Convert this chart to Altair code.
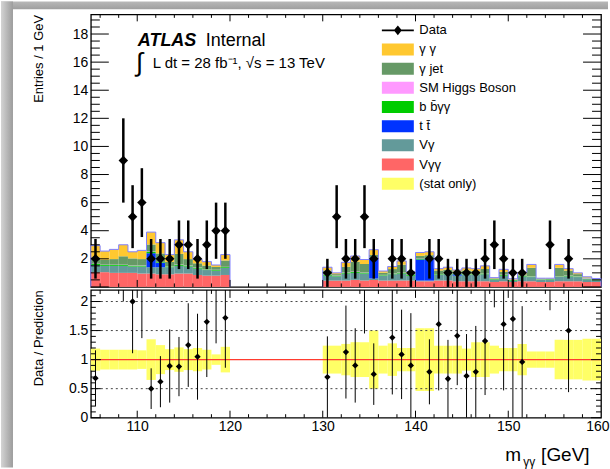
import altair as alt
import pandas as pd

FONT = "Liberation Sans"

# ---------------- data ----------------
bin_low = [105, 106, 107, 108, 109, 110, 111, 112, 113, 114, 115, 116, 117, 118, 119,
           130, 131, 132, 133, 134, 135, 136, 137, 138, 139, 140, 141, 142, 143, 144,
           145, 146, 147, 148, 149, 150, 151, 152, 153, 154, 155, 156, 157, 158, 159]

vyy = [1.05, 1.05, 1.00, 1.00, 1.00, 0.95, 0.95, 0.90, 0.90, 0.95, 0.95, 0.85, 0.80, 0.80, 0.85,
       0.45, 0.45, 0.45, 0.50, 0.45, 0.50, 0.45, 0.45, 0.45, 0.45, 0.40, 0.40, 0.45, 0.45, 0.40,
       0.40, 0.40, 0.40, 0.35, 0.40, 0.35, 0.40, 0.40, 0.35, 0.35, 0.40, 0.40, 0.40, 0.35, 0.35]
vy = [0.50, 0.45, 0.50, 0.50, 0.45, 0.50, 0.45, 0.50, 0.50, 0.55, 0.50, 0.45, 0.40, 0.35, 0.50,
      0.35, 0.30, 0.50, 0.50, 0.50, 0.10, 0.35, 0.45, 0.50, 0.35, 0.05, 0.05, 0.40, 0.45, 0.40,
      0.45, 0.45, 0.50, 0.15, 0.40, 0.10, 0.35, 0.30, 0.15, 0.15, 0.30, 0.35, 0.30, 0.20, 0.12]
ttbar = [0, 0, 0, 0, 0, 0, 1.00, 0.30, 0, 0, 0, 0, 0, 0, 0,
         0, 0, 0, 0, 0, 1.40, 0, 0, 0, 0, 1.50, 1.55, 0, 0, 0.10,
         0, 0, 0, 0, 0, 0, 0, 0, 0, 0, 0, 0, 0, 0, 0]
bbyy = [0.08, 0.06, 0.06, 0.06, 0.06, 0.06, 0.10, 0.06, 0.06, 0.08, 0.06, 0.06, 0.05, 0.05, 0.06,
        0.05, 0.04, 0.06, 0.06, 0.06, 0.05, 0.04, 0.05, 0.05, 0.04, 0.04, 0.04, 0.05, 0.05, 0.04,
        0.05, 0.05, 0.05, 0.05, 0.05, 0.04, 0.04, 0.04, 0.04, 0.04, 0.04, 0.04, 0.04, 0.04, 0.04]
higgs = [0.02, 0.02, 0.02, 0.02, 0.02, 0.02, 0.02, 0.02, 0.02, 0.02, 0.02, 0.02, 0.02, 0.02, 0.02,
         0.02, 0.02, 0.02, 0.03, 0.02, 0.02, 0.02, 0.02, 0.02, 0.02, 0.02, 0.02, 0.02, 0.02, 0.02,
         0.02, 0.02, 0.02, 0.02, 0.02, 0.02, 0.02, 0.02, 0.02, 0.02, 0.02, 0.02, 0.02, 0.02, 0.02]
yjet = [0.45, 0.35, 0.40, 0.60, 0.50, 0.45, 0.50, 0.60, 0.30, 0.75, 0.45, 0.30, 0.25, 0.20, 0.45,
        0.30, 0.10, 0.40, 0.70, 0.60, 0.20, 0.15, 0.30, 0.55, 0.15, 0.20, 0.20, 0.25, 0.25, 0.15,
        0.25, 0.20, 0.30, 0.04, 0.20, 0.02, 0.10, 0.60, 0.03, 0.03, 0.60, 0.35, 0.15, 0.06, 0.03]
yy = [0.84, 0.62, 0.69, 0.82, 0.47, 0.62, 0.88, 0.77, 0.52, 1.00, 0.52, 0.27, 0.28, 0.14, 0.42,
      0.23, 0.09, 0.32, 0.41, 0.32, 0.38, 0.12, 0.18, 0.28, 0.09, 0.24, 0.24, 0.13, 0.18, 0.09,
      0.18, 0.18, 0.23, 0.05, 0.18, 0.05, 0.09, 0.24, 0.03, 0.03, 0.24, 0.14, 0.09, 0.05, 0.04]

band_err = [0.19, 0.17, 0.17, 0.17, 0.17, 0.16, 0.35, 0.25, 0.18, 0.21, 0.18, 0.20, 0.17, 0.09, 0.22,
            0.24, 0.24, 0.27, 0.30, 0.30, 0.50, 0.24, 0.28, 0.20, 0.20, 0.54, 0.54, 0.24, 0.24, 0.24,
            0.19, 0.30, 0.30, 0.24, 0.20, 0.20, 0.27, 0.14, 0.14, 0.14, 0.34, 0.34, 0.34, 0.36, 0.36]

data_mass = [105.5, 108.5, 109.5, 110.5, 111.5, 112.5, 113.5, 114.5, 115.5, 116.5, 117.5, 118.5, 119.5,
             130.5, 131.5, 132.5, 133.5, 134.5, 135.5, 137.5, 138.5, 139.5, 141.5, 142.5, 143.5,
             144.5, 145.5, 146.5, 147.5, 148.5, 149.5, 150.5, 151.5, 154.5, 156.5]
data_n = [2, 9, 5, 6, 2, 2, 2, 3, 3, 2, 3, 4, 4,
          1, 5, 2, 2, 5, 2, 2, 2, 1, 2, 2, 1, 1, 1, 1, 2, 3, 2, 1, 1, 3, 2]
data_err = [1.41, 3.0, 2.24, 2.45, 1.41, 1.41, 1.41, 1.73, 1.73, 1.41, 1.73, 2.0, 2.0,
            1.0, 2.24, 1.41, 1.41, 2.24, 1.41, 1.41, 1.41, 1.0, 1.41, 1.41, 1.0, 1.0, 1.0, 1.0,
            1.41, 1.73, 1.41, 1.0, 1.0, 1.73, 1.41]
ratio_val = [0.68, 3.0, 2.0, 2.31, 0.50, 0.62, 0.89, 0.88, 1.25, 1.05, 1.65, 2.56, 1.72,
             0.70, 5.0, 1.13, 0.90, 2.63, 0.75, 1.38, 1.09, 0.90, 0.79, 1.61, 0.67, 1.41, 0.72,
             0.79, 1.32, 4.5, 1.61, 1.70, 0.96, 4.35, 1.50]
ratio_err = [0.48, 1.0, 0.89, 0.94, 0.35, 0.44, 0.63, 0.51, 0.72, 0.74, 0.95, 1.28, 0.86,
             0.70, 2.24, 0.80, 0.64, 1.18, 0.53, 0.98, 0.77, 0.90, 0.56, 1.14, 0.67, 0.85, 0.72,
             0.79, 0.93, 2.6, 1.14, 1.70, 0.96, 2.5, 1.06]

comp_names = ["γ γ", "γ jet", "SM Higgs Boson", "b b\u0304γγ", "t t\u0304", "Vγ", "Vγγ"]
comp_colors = ["#FFC830", "#669966", "#FF99FF", "#00CC00", "#0033FF", "#639A9A", "#FF6666"]
legend_labels = ["Data"] + comp_names + [" (stat only)"]
legend_colors = ["#000000"] + comp_colors + ["#FFFF66"]

y_top_labels = [2, 4, 6, 8, 10, 12, 14, 16, 18]
y_rat_labels = [0, 0.5, 1, 1.5, 2]
x_labels = [110, 120, 130, 140, 150, 160]
dotted_levels = [0.5, 1.5, 2.0]

# ---------------- layout constants ----------------
W = 511
H_TOP = 273
H_RAT = 128
X_DOM = [105, 160]
Y_TOP_DOM = [0, 19.4]
Y_RAT_DOM = [0, 2.2]

# ---------------- tables ----------------
stack_order = [("Vγγ", vyy), ("Vγ", vy), ("t t\u0304", ttbar), ("b b\u0304γγ", bbyy),
               ("SM Higgs Boson", higgs), ("γ jet", yjet), ("γ γ", yy)]
rows = []
totals = []
for i, lo in enumerate(bin_low):
    base = 0.0
    for name, arr in stack_order:
        rows.append(dict(lo=lo, hi=lo + 1, y0=base, y1=base + arr[i], comp=name))
        base += arr[i]
    totals.append(base)
stack_df = pd.DataFrame(rows)

out_rows = []
k = 0
for region in ("L", "R"):
    idx = [i for i, lo in enumerate(bin_low) if (lo < 125) == (region == "L")]
    out_rows.append(dict(x=bin_low[idx[0]], y=0.0, reg=region, k=k)); k += 1
    for i in idx:
        out_rows.append(dict(x=bin_low[i], y=totals[i], reg=region, k=k)); k += 1
    last = idx[-1]
    out_rows.append(dict(x=bin_low[last] + 1, y=totals[last], reg=region, k=k)); k += 1
    out_rows.append(dict(x=bin_low[last] + 1, y=0.0, reg=region, k=k)); k += 1
outline_df = pd.DataFrame(out_rows)

band_df = pd.DataFrame(dict(lo=bin_low, err=band_err))
band_df["hi"] = band_df["lo"] + 1
band_df["b0"] = 1 - band_df["err"]
band_df["b1"] = 1 + band_df["err"]

data_df = pd.DataFrame(dict(mass=data_mass, n=data_n, err=data_err))
data_df["lo"] = data_df["n"] - data_df["err"]
data_df["hi"] = data_df["n"] + data_df["err"]

ratio_df = pd.DataFrame(dict(mass=data_mass, r=ratio_val, e=ratio_err))
ratio_df["lo"] = ratio_df["r"] - ratio_df["e"]
ratio_df["hi"] = ratio_df["r"] + ratio_df["e"]

legend_df = pd.DataFrame(dict(label=legend_labels, mass=[0.0] * len(legend_labels),
                              n=[-100.0] * len(legend_labels)))

# ---------------- helpers ----------------
xs = alt.Scale(domain=X_DOM, nice=False, zero=False)
ys_top = alt.Scale(domain=Y_TOP_DOM, nice=False, zero=False)
ys_rat = alt.Scale(domain=Y_RAT_DOM, nice=False, zero=False)

axis_y_top = alt.Axis(values=y_top_labels, tickSize=0, domain=False, grid=False,
                      labelFont=FONT, labelFontSize=14, labelColor="black", labelPadding=3,
                      title="Entries / 1 GeV", titleFont=FONT, titleFontSize=13,
                      titleFontWeight="normal", titleColor="black", titleAnchor="end",
                      titleX=-45, titleBaseline="bottom")
axis_y_rat = alt.Axis(values=y_rat_labels, format="~g", tickSize=0, domain=False, grid=False,
                      labelFont=FONT, labelFontSize=14, labelColor="black", labelPadding=3,
                      title="Data / Prediction", titleFont=FONT, titleFontSize=13,
                      titleFontWeight="normal", titleColor="black", titleAnchor="end",
                      titleX=-45, titleBaseline="bottom")
axis_x_rat = alt.Axis(values=x_labels, tickSize=0, domain=False, grid=False,
                      labelFont=FONT, labelFontSize=14, labelColor="black", labelPadding=2,
                      labelFlush=True, labelFlushOffset=8, title=None)


def XT(f):
    return alt.X(f, scale=xs, axis=None)


def YT(f):
    return alt.Y(f, scale=ys_top, axis=axis_y_top)


def XR(f):
    return alt.X(f, scale=xs, axis=axis_x_rat)


def YR(f):
    return alt.Y(f, scale=ys_rat, axis=axis_y_rat)


def one():
    return pd.DataFrame({"t": ["x"]})


def txt(s, x, y, size, **kw):
    return alt.Chart(pd.DataFrame({"t": [s]})).mark_text(
        align="left", baseline="alphabetic", font=FONT, fontSize=size, color="black", **kw
    ).encode(x=alt.value(x), y=alt.value(y), text="t:N")


def yticks(values, length, yenc):
    df = pd.DataFrame({"v": values})
    left = alt.Chart(df).mark_rule(color="black", strokeWidth=1).encode(
        y=yenc("v:Q"), x=alt.value(0), x2=alt.value(length))
    right = alt.Chart(df).mark_rule(color="black", strokeWidth=1).encode(
        y=yenc("v:Q"), x=alt.value(W), x2=alt.value(W - length))
    return [left, right]


def xticks(values, ltop, lbot, height, xenc):
    df = pd.DataFrame({"v": values})
    top = alt.Chart(df).mark_rule(color="black", strokeWidth=1).encode(
        x=xenc("v:Q"), y=alt.value(0), y2=alt.value(ltop))
    bot = alt.Chart(df).mark_rule(color="black", strokeWidth=1).encode(
        x=xenc("v:Q"), y=alt.value(height), y2=alt.value(height - lbot))
    return [top, bot]


x_major = [110, 120, 130, 140, 150]
x_minor = [v for v in range(106, 160, 2) if v % 10 != 0]
y_top_major = [0, 2, 4, 6, 8, 10, 12, 14, 16, 18]
y_top_minor = [v / 2 for v in range(1, 39) if v % 4 != 0]
y_rat_major = [0, 0.5, 1, 1.5, 2]
y_rat_minor = [v / 10 for v in range(1, 22) if v % 5 != 0]

# ---------------- decorations (gray screenshot border) ----------------
grad_left = alt.LinearGradient(gradient="linear", x1=0, x2=1, y1=0, y2=0,
                               stops=[alt.GradientStop(color="#d4d4d4", offset=0),
                                      alt.GradientStop(color="#9c9c9c", offset=1)])
grad_top = alt.LinearGradient(gradient="linear", x1=0, x2=0, y1=0, y2=1,
                              stops=[alt.GradientStop(color="#b8b8b8", offset=0),
                                     alt.GradientStop(color="#9e9e9e", offset=1)])
deco_top = alt.Chart(one()).mark_rect(fill=grad_top, opacity=1).encode(
    x=alt.value(-90), x2=alt.value(518), y=alt.value(-13), y2=alt.value(-5))
deco_left = alt.Chart(one()).mark_rect(fill=grad_left, opacity=1).encode(
    x=alt.value(-90), x2=alt.value(-78), y=alt.value(-13), y2=alt.value(454))

# ---------------- top panel ----------------
stack = alt.Chart(stack_df).mark_rect(opacity=1).encode(
    x=XT("lo:Q"), x2="hi:Q", y=YT("y0:Q"), y2="y1:Q",
    color=alt.Color("comp:N", scale=alt.Scale(domain=comp_names, range=comp_colors), legend=None))

outline = alt.Chart(outline_df).mark_line(interpolate="step-after", color="#7f7fff",
                                          strokeWidth=1, opacity=1).encode(
    x=XT("x:Q"), y=YT("y:Q"), detail="reg:N", order="k:Q")

err_top = alt.Chart(data_df).mark_rule(color="black", strokeWidth=2.5, opacity=1).encode(
    x=XT("mass:Q"), y=YT("lo:Q"), y2="hi:Q")
pts_top = alt.Chart(data_df).mark_point(shape="diamond", filled=True, color="black",
                                        size=90, opacity=1).encode(
    x=XT("mass:Q"), y=YT("n:Q"))

sym_box = "M-2,-0.75H2V0.75H-2Z"
sym_data = "M-2,-0.1H2V0.1H-2Z M0,-0.6L0.5,0L0,0.6L-0.5,0Z"
legend_shapes = [sym_data] + [sym_box] * 8

leg_kw = dict(orient="none", legendX=299.5, legendY=8, symbolSize=256,
              labelFont=FONT, labelFontSize=13, labelColor="black",
              labelOffset=13.5, rowPadding=4.2, padding=0, symbolOpacity=1,
              symbolStrokeWidth=0, labelLimit=300)
legend_layer = alt.Chart(legend_df).transform_filter("datum.n > 0").mark_point(
    filled=True, opacity=1).encode(
    x=XT("mass:Q"), y=YT("n:Q"),
    fill=alt.Fill("label:N", scale=alt.Scale(domain=legend_labels, range=legend_colors), title=None,
                  legend=alt.Legend(**leg_kw)),
    shape=alt.Shape("label:N", scale=alt.Scale(domain=legend_labels, range=legend_shapes), title=None,
                    legend=alt.Legend(**leg_kw)))

t_atlas = txt("ATLAS", 47, 32, 18, fontStyle="italic", fontWeight="bold")
t_internal = txt("Internal", 115, 32, 18)
t_int = txt("∫", 45, 57, 26)
t_lumi = txt("L dt = 28 fb⁻¹, √s = 13 TeV", 62, 54, 15)

top_layers = [deco_top, deco_left, stack, outline, err_top, pts_top]
top_layers += yticks(y_top_major, 18, YT) + yticks(y_top_minor, 9, YT)
top_layers += xticks(x_major, 7, 7, H_TOP, XT) + xticks(x_minor, 3.5, 3.5, H_TOP, XT)
top_layers += [t_atlas, t_internal, t_int, t_lumi, legend_layer]
top = alt.layer(*top_layers).properties(width=W, height=H_TOP)

# ---------------- ratio panel ----------------
band = alt.Chart(band_df).mark_rect(color="#FFFF66", opacity=1).encode(
    x=XR("lo:Q"), x2="hi:Q", y=YR("b0:Q"), y2="b1:Q")
dotted = alt.Chart(pd.DataFrame({"v": dotted_levels})).mark_rule(
    color="#444444", strokeWidth=1, strokeDash=[2, 3]).encode(
    y=YR("v:Q"), x=alt.value(0), x2=alt.value(W))
redline = alt.Chart(pd.DataFrame({"v": [1.0]})).mark_rule(color="#FF3B2F", strokeWidth=1.2).encode(
    y=YR("v:Q"), x=alt.value(0), x2=alt.value(W))
err_rat = alt.Chart(ratio_df).mark_rule(color="black", strokeWidth=1, clip=True, opacity=1).encode(
    x=XR("mass:Q"), y=YR("lo:Q"), y2="hi:Q")
pts_rat = alt.Chart(ratio_df).transform_filter("datum.r <= 2.2").mark_point(
    shape="diamond", filled=True, color="black", size=40, opacity=1).encode(
    x=XR("mass:Q"), y=YR("r:Q"))

t_m = txt("m", 415, 171, 19)
t_sub = txt("γγ", 433, 176, 12)
t_gev = txt("[GeV]", 451, 171, 19)

rat_layers = [band, dotted, redline, err_rat, pts_rat]
rat_layers += yticks(y_rat_major, 10, YR) + yticks(y_rat_minor, 5, YR)
rat_layers += xticks(x_major, 8, 7, H_RAT, XR) + xticks(x_minor, 4, 3.5, H_RAT, XR)
rat_layers += [t_m, t_sub, t_gev]
ratio = alt.layer(*rat_layers).properties(width=W, height=H_RAT)

chart = alt.vconcat(top, ratio, spacing=3, bounds="flush").properties(
    padding=0, background="white"
).configure_view(stroke="black", strokeWidth=1.3)

chart.save("out.html", embed_options={"renderer": "svg", "actions": False})
